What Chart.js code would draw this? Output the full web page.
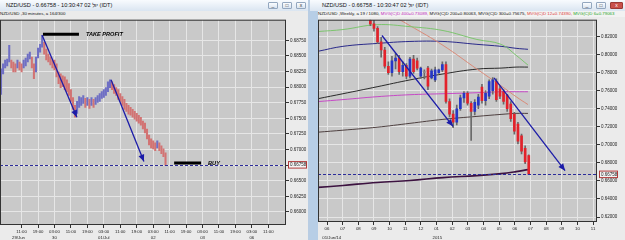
<!DOCTYPE html>
<html><head><meta charset="utf-8">
<script src="https://cdn.jsdelivr.net/npm/chart.js@4/dist/chart.umd.min.js"></script>
<style>
body{margin:0;width:625px;height:240px;overflow:hidden;background:#b9cde3;position:relative;font-family:"Liberation Sans",Arial,sans-serif;}
.win{position:absolute;top:0;height:240px;background:#ebebeb;overflow:hidden}
.tb{position:absolute;left:0;top:0;right:0;height:11px;background:linear-gradient(#f8fbfe,#dae5f1);font-size:5.6px;line-height:10px;color:#111;white-space:nowrap}
.sub{position:absolute;top:11px;height:6px;font-size:4.4px;line-height:6px;white-space:nowrap;color:#111}
.btn{position:absolute;top:2px;width:10px;height:7px;border:1px solid #93a7bf;border-radius:1px;background:linear-gradient(#fbfdff,#d9e4f0);box-sizing:border-box;font-size:5px;line-height:5px;text-align:center;color:#333}
.cv{position:absolute}
</style></head><body>
<div class="win" id="lw" style="left:0;width:308px;">
  <div class="tb"><span style="margin-left:6px">NZD/USD - 0.66758 - 10:30:47 <span dir="ltr">02 יול</span> (IDT)</span>
    <div class="btn" style="left:268px">_</div><div class="btn" style="left:282px">□</div><div class="btn" style="left:296px">x</div></div>
  <div class="sub" style="left:0">NZD/USD ,30 minutes, a 164/300</div>
  <canvas id="c1" class="cv" width="308" height="224" style="left:0;top:16px;width:308px;height:224px"></canvas>
</div>
<div class="win" id="rw" style="left:310px;width:315px;background:#ebebeb;">
  <div style="position:absolute;left:0;top:0;width:8px;height:240px;background:#b7cee6"></div>
  <div class="tb"><span style="margin-left:12px">NZD/USD - 0.66758 - 10:30:47 <span dir="ltr">02 יול</span> (IDT)</span>
    <div class="btn" style="left:272px">_</div><div class="btn" style="left:286px">□</div><div class="btn" style="left:300px;width:13px;background:#c9504a;color:#fff;border-color:#9a3a36">x</div></div>
  <div class="sub" style="left:8px;right:0;background:#f2f2f2">NZD/USD ,Weekly, a 19 / 1080, <span style="color:#c02ac0">MVG(C)D 400=0.73089,</span> MVG(C)D 200=0.80063, MVG(C)D 300=0.75675, <span style="color:#e0403a">MVG(C)D 12=0.74390,</span> <span style="color:#2aa82a">MVG(C)D 6=0.79063</span></div>
  <canvas id="c2" class="cv" width="307" height="224" style="left:8px;top:16px;width:307px;height:224px"></canvas>
</div>
<script>
// ---------- LEFT: NZD/USD 30 minutes (hourly high/low) ----------
const L_HOURS = [-10,-9,-8,-7,-6,-5,-4,-3,-2,-1,0,1,2,3,4,5,6,7,8,9,10,11,12,13,14,15,16,17,18,19,20,21,22,23,24,25,26,27,28,29,30,31,32,33,34,35,36,37,38,39,40,41,42,43,44,45,46,47,48,49,50,51,52,53,54,55,56,57,58,59,60,61,62,63,64,65,66,67,68,69,70];
const L_HIGH = [.68292,.68371,.68434,.68450,.68671,.68434,.68402,.68371,.68434,.68402,.68371,.68434,.68466,.68529,.68560,.68481,.68371,.68481,.68624,.68687,.68829,.68718,.68608,.68529,.68481,.68434,.68434,.68371,.68244,.68213,.68181,.68165,.68118,.68055,.67960,.67833,.67707,.67770,.67849,.67833,.67865,.67818,.67833,.67802,.67833,.67802,.67833,.67865,.67897,.67928,.67960,.67991,.68086,.68118,.68086,.68039,.67991,.67960,.67897,.67849,.67802,.67738,.67707,.67675,.67644,.67612,.67580,.67549,.67517,.67454,.67422,.67328,.67233,.67170,.67138,.67106,.67138,.67106,.67059,.67011,.66948];
const L_LOW = [.67881,.68213,.68307,.68339,.68402,.68307,.68244,.68244,.68307,.68276,.68244,.68307,.68339,.68402,.68450,.68307,.68134,.68244,.68466,.68560,.68639,.68529,.68434,.68402,.68355,.68307,.68276,.68165,.68055,.67991,.68007,.67960,.67928,.67865,.67770,.67644,.67517,.67580,.67675,.67707,.67738,.67675,.67707,.67659,.67707,.67675,.67723,.67754,.67770,.67818,.67833,.67865,.67928,.67991,.67960,.67897,.67865,.67802,.67770,.67707,.67644,.67612,.67565,.67549,.67517,.67486,.67454,.67422,.67391,.67328,.67264,.67170,.67075,.67027,.67011,.66980,.67027,.66980,.66932,.66885,.66743];
const L_TIME_LABELS = ["11:00","19:00","03:00","11:00","19:00","03:00","11:00","19:00","03:00","11:00","19:00","03:00","11:00","19:00","03:00","11:00"];
const L_TIME_POS = [0,8,16,24,32,40,48,56,64,72,80,88,96,104,112,120];
const L_DATE_LABELS = ["29/Jun","30","01/Jul","02","03","06"];
const L_DATE_POS = [-1.5,16,40,64,88,112];
const L_Y_TICKS = [0.66,0.6625,0.665,0.6675,0.67,0.6725,0.675,0.6775,0.68,0.6825,0.685,0.6875];
const LAST_PRICE = 0.66758;
const L_ARROWS = [[10,0.68829,26.9,0.67517],[43.5,0.68118,59.5,0.66806]];
const L_MARKS = [{from:10.4,to:27.9,y:0.68845,text:"TAKE PROFIT",tx:31.3},{from:74.2,to:87.3,y:0.66782,text:"BUY",tx:90.7}];

// ---------- RIGHT: NZD/USD weekly ----------
const R_WEEK_M = [2.77,3.00,3.23,3.46,3.69,3.92,4.15,4.38,4.61,4.84,5.07,5.30,5.53,5.76,5.99,6.22,6.45,6.68,6.91,7.14,7.37,7.60,7.83,8.06,8.29,8.52,8.75,8.98,9.21,9.44,9.67,9.90,10.13,10.36,10.59,10.82,11.05,11.28,11.51,11.74,11.97,12.20,12.43,12.66,12.89];
const R_OPEN = [.8380,.8340,.8290,.8140,.8050,.7870,.7800,.7930,.7960,.7810,.7880,.7760,.7950,.7930,.7760,.7800,.7850,.7740,.7720,.7800,.7830,.7890,.7480,.7340,.7250,.7400,.7520,.7570,.7460,.7370,.7440,.7640,.7490,.7540,.7600,.7700,.7620,.7590,.7550,.7450,.7340,.7230,.7100,.6960,.6880];
const R_HIGH = [.8450,.8380,.8310,.8190,.8080,.7920,.7980,.8010,.7990,.7920,.7900,.7970,.7990,.7960,.7860,.7830,.7870,.7840,.7860,.7840,.7920,.7920,.7510,.7380,.7440,.7550,.7590,.7590,.7480,.7500,.7560,.7670,.7600,.7720,.7745,.7730,.7650,.7610,.7560,.7480,.7360,.7250,.7120,.6990,.6890];
const R_LOW = [.8320,.8260,.8120,.7970,.7850,.7780,.7760,.7840,.7780,.7760,.7730,.7740,.7790,.7830,.7735,.7730,.7610,.7730,.7700,.7790,.7810,.7460,.7310,.7190,.7220,.7380,.7470,.7440,.7050,.7330,.7400,.7460,.7440,.7510,.7560,.7480,.7510,.7450,.7370,.7260,.7118,.7009,.6900,.6790,.66758];
const R_CLOSE = [.8340,.8290,.8140,.8050,.7870,.7800,.7930,.7960,.7810,.7880,.7760,.7950,.7810,.7850,.7850,.7800,.7650,.7820,.7830,.7830,.7890,.7480,.7340,.7250,.7400,.7520,.7570,.7460,.7370,.7470,.7530,.7490,.7570,.7700,.7720,.7500,.7540,.7480,.7400,.7290,.7150,.7040,.6930,.6810,.66758];
const R_MA_M = [-0.575,1.02,3.20,5.30,7.41,9.58,11.12,12.08,12.84];
const R_MA_GREEN = [.8255,.8277,.8331,.8309,.8266,.8167,.8113,.7992,.7883];
const R_MA_SALMON = [null,null,.8528,.8320,.8102,.7839,.7654,.7533,.7446];
const R_MA_NAVY = [.8036,.8091,.8123,.8145,.8145,.8113,.8091,.8069,.8058];
const R_MA_BLACK = [.7511,.7566,.7643,.7719,.7785,.7839,.7850,.7861,.7861];
const R_MA_MAGENTA = [.7479,.7501,.7533,.7555,.7566,.7577,.7588,.7588,.7588];
const R_MA_DARK = [.7140,.7162,.7195,.7238,.7282,.7315,.7337,.7348,.7348];
const R_MA_PURPLE = [.6528,.6550,.6583,.6604,.6637,.6659,.6681,.6703,.6725];
const R_MONTH_LABELS = ["06","07","08","09","10","11","12","01","02","03","04","05","06","07","08","09","10","11"];
const R_MONTH_POS = [0,1,2,3,4,5,6,7,8,9,10,11,12,13,14,15,16,17];
const R_DATE_LABELS = ["01/Jun/14","2015"];
const R_DATE_POS = [0.3,7.05];
const R_Y_TICKS = [0.62,0.64,0.66,0.68,0.70,0.72,0.74,0.76,0.78,0.80,0.82];
const R_ARROWS = [[3.51,0.8211,8.05,0.7205],[10.67,0.7741,15.21,0.6714]];

const FONT = "Liberation Sans";
function arrow(ctx,x1,y1,x2,y2){
  ctx.beginPath();ctx.moveTo(x1,y1);ctx.lineTo(x2,y2);ctx.stroke();
  const a=Math.atan2(y2-y1,x2-x1),L=7,W=3;
  ctx.beginPath();ctx.moveTo(x2,y2);
  ctx.lineTo(x2-L*Math.cos(a)+W*Math.sin(a),y2-L*Math.sin(a)-W*Math.cos(a));
  ctx.lineTo(x2-L*Math.cos(a)-W*Math.sin(a),y2-L*Math.sin(a)+W*Math.cos(a));
  ctx.closePath();ctx.fill();
}
function overlay(arrows,marks,dateLabels,datePos,dateY){
  return {
    id:'overlay',
    afterDatasetsDraw(chart){
      const {ctx,chartArea:a,scales:{x,y}}=chart;
      ctx.save();
      ctx.beginPath();ctx.rect(a.left,a.top,a.right-a.left,a.bottom-a.top);ctx.clip();
      const py=Math.round(y.getPixelForValue(LAST_PRICE))+0.5;
      ctx.strokeStyle='#2c2c9a';ctx.lineWidth=1;ctx.setLineDash([3,2]);
      ctx.beginPath();ctx.moveTo(a.left,py);ctx.lineTo(a.right,py);ctx.stroke();
      ctx.setLineDash([]);
      ctx.strokeStyle='#1c1ca8';ctx.fillStyle='#1c1ca8';ctx.lineWidth=1.3;
      arrows.forEach(r=>arrow(ctx,x.getPixelForValue(r[0]),y.getPixelForValue(r[1]),x.getPixelForValue(r[2]),y.getPixelForValue(r[3])));
      marks.forEach(m=>{
        const yy=y.getPixelForValue(m.y);
        ctx.strokeStyle='#000';ctx.lineWidth=3;
        ctx.beginPath();ctx.moveTo(x.getPixelForValue(m.from),yy);ctx.lineTo(x.getPixelForValue(m.to),yy);ctx.stroke();
        ctx.fillStyle='#000';ctx.font='italic bold 5.6px '+FONT;ctx.textBaseline='middle';ctx.textAlign='left';
        ctx.fillText(m.text,x.getPixelForValue(m.tx),yy);
      });
      ctx.restore();
    },
    afterDraw(chart){
      const {ctx,chartArea:a,scales:{x,y}}=chart;
      ctx.save();
      ctx.strokeStyle='#333';ctx.lineWidth=1;
      ctx.strokeRect(a.left+0.5,a.top+0.5,a.right-a.left-1,a.bottom-a.top-1);
      const py=y.getPixelForValue(LAST_PRICE);
      ctx.fillStyle='#f4f4f4';ctx.fillRect(a.right+2,py-3.5,19,7);
      ctx.strokeStyle='#b03a3a';ctx.strokeRect(a.right+2.5,py-3,18,6.5);
      ctx.fillStyle='#222';ctx.font='4.5px '+FONT;ctx.textAlign='left';ctx.textBaseline='middle';
      ctx.fillText(LAST_PRICE.toFixed(5),a.right+4,py+0.3);
      ctx.font='4.3px '+FONT;ctx.textAlign='center';ctx.fillStyle='#222';
      dateLabels.forEach((t,i)=>ctx.fillText(t,x.getPixelForValue(datePos[i]),dateY));
      ctx.restore();
    }
  };
}
function axes(xmin,xmax,xTickPos,xTickLabels,ymin,ymax,yTicks,yWidth,xHeight){
  return {
    x:{type:'linear',min:xmin,max:xmax,offset:false,
       grid:{offset:false,color:'#e6e6e6',lineWidth:1,tickLength:3,tickColor:'#333'},
       border:{display:false},
       afterBuildTicks:s=>{s.ticks=xTickPos.map(v=>({value:v}));},
       afterFit:s=>{s.height=xHeight;},
       ticks:{autoSkip:false,maxRotation:0,padding:1,color:'#222',font:{size:4.3,family:FONT},callback:(v,i)=>xTickLabels[i]}},
    y:{position:'right',min:ymin,max:ymax,
       grid:{color:'#e6e6e6',lineWidth:1,tickLength:3,tickColor:'#333'},
       border:{display:false},
       afterBuildTicks:s=>{s.ticks=yTicks.map(v=>({value:v}));},
       afterFit:s=>{s.width=yWidth;},
       ticks:{autoSkip:false,padding:1,color:'#222',font:{size:4.5,family:FONT},callback:v=>v.toFixed(5)}}
  };
}
const bgPlugin={id:'bg',beforeDraw(chart){const {ctx,chartArea:a}=chart;ctx.save();ctx.fillStyle='#c9c9c9';ctx.fillRect(a.left,a.top,a.right-a.left,a.bottom-a.top);ctx.restore();}};

const lMid=L_HIGH.map((h,i)=>(h+L_LOW[i])/2);
const lColors=lMid.map((m,i)=>i===0||m>=lMid[i-1]?'#6e6ec4':'#d27373');
new Chart(document.getElementById('c1'),{
  type:'bar',
  data:{datasets:[{data:L_HOURS.map((h,i)=>({x:h,y:[L_LOW[i],L_HIGH[i]]})),backgroundColor:lColors,barThickness:1.4,grouped:false,borderWidth:0}]},
  options:{responsive:false,animation:false,devicePixelRatio:1,
    layout:{padding:{top:1,left:0,right:0,bottom:0}},
    plugins:{legend:{display:false},tooltip:{enabled:false}},
    scales:axes(-10.5,128.6,L_TIME_POS,L_TIME_LABELS,0.6579,0.6908,L_Y_TICKS,22,15)},
  plugins:[bgPlugin,overlay(L_ARROWS,L_MARKS,L_DATE_LABELS,L_DATE_POS,222)]
});

const rColors=R_OPEN.map((o,i)=>R_CLOSE[i]<o?'#e3222b':(R_CLOSE[i]>o?'#2636c6':'#8a8a8a'));
function maLine(vals,color,w){return {type:'line',data:R_MA_M.map((m,i)=>({x:m,y:vals[i]})),borderColor:color,borderWidth:w,pointRadius:0,tension:0.4,order:3,spanGaps:false};}
new Chart(document.getElementById('c2'),{
  type:'bar',
  data:{datasets:[
    maLine(R_MA_GREEN,'#7cc46e',1),
    maLine(R_MA_SALMON,'#d98a78',1),
    maLine(R_MA_NAVY,'#2a2a8a',1),
    maLine(R_MA_BLACK,'#2a2a2a',1),
    maLine(R_MA_MAGENTA,'#c64ac6',1),
    maLine(R_MA_DARK,'#4e4040',1),
    maLine(R_MA_PURPLE,'#3c1240',1.6),
    {data:R_WEEK_M.map((m,i)=>({x:m,y:[R_LOW[i],R_HIGH[i]]})),backgroundColor:'#6a6a6a',barThickness:1,grouped:false,borderWidth:0,order:2},
    {data:R_WEEK_M.map((m,i)=>({x:m,y:[R_OPEN[i],R_CLOSE[i]]})),backgroundColor:rColors,barThickness:2,grouped:false,borderWidth:0,order:1,minBarLength:1}
  ]},
  options:{responsive:false,animation:false,devicePixelRatio:1,
    layout:{padding:{top:1,left:0,right:0,bottom:0}},
    plugins:{legend:{display:false},tooltip:{enabled:false}},
    scales:axes(-0.575,17.25,R_MONTH_POS,R_MONTH_LABELS,0.6145,0.8386,R_Y_TICKS,28,18)},
  plugins:[bgPlugin,overlay(R_ARROWS,[],R_DATE_LABELS,R_DATE_POS,222)]
});
</script>
</body></html>
